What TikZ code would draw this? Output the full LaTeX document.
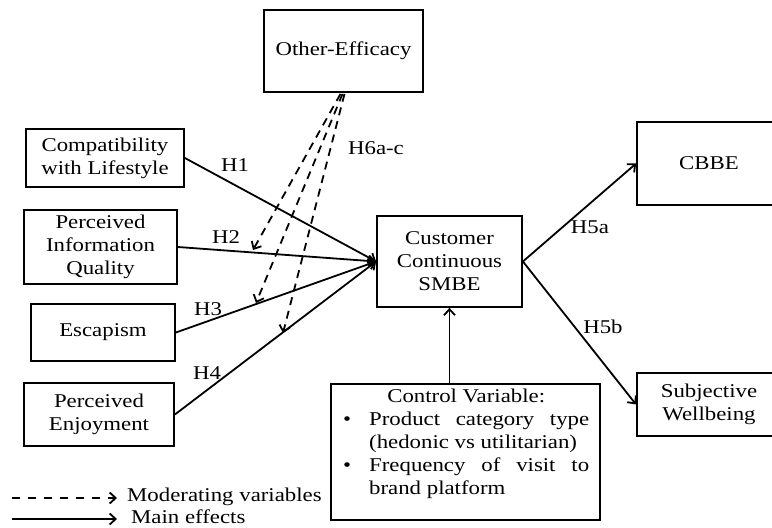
\documentclass[tikz,border=0pt]{standalone}
\usepackage{fontspec}
\setmainfont{Liberation Serif}[FakeStretch=1.17]
\usetikzlibrary{arrows.meta,calc}
\begin{document}
\begin{tikzpicture}[x=1pt,y=-1pt,
  txt/.style={font=\fontsize{19.5}{23}\selectfont},
  box/.style={txt, draw, line width=1.8pt, inner sep=0pt, align=center},
  lbl/.style={txt, inner sep=0pt},
  main/.style={line width=1.8pt, -{Straight Barb[length=6pt,width=11pt,line width=1.8pt]}},
  modr/.style={main, dash pattern=on 8pt off 6pt}]
\useasboundingbox (0,0) rectangle (772,528);
\begin{scope}
\clip (0,0) rectangle (772,528);
\node[box, minimum width=159pt, minimum height=82pt] (oe) at (343.5,51) {Other-Efficacy};
\node[box, minimum width=158pt, minimum height=58pt] (comp) at (105,158) {Compatibility\\with Lifestyle};
\node[box, minimum width=153pt, minimum height=74pt] (piq) at (100.5,247) {Perceived\\Information\\Quality};
\node[box, minimum width=144pt, minimum height=57pt] (esc) at (103,332.5) {Escapism};
\node[box, minimum width=150pt, minimum height=63pt] (pe) at (99,414.5) {Perceived\\Enjoyment};
\node[box, minimum width=145pt, minimum height=91pt] (smbe) at (449.5,261.5) {Customer\\Continuous\\SMBE};
\node[box, minimum width=144pt, minimum height=83pt] (cbbe) at (709,163.5) {CBBE};
\node[box, minimum width=144pt, minimum height=63pt] (sw) at (709,404.5) {Subjective\\Wellbeing};
\node[draw, line width=1.8pt, minimum width=269pt, minimum height=136pt, inner sep=0pt] (ctrl) at (465.5,452) {};
\node[lbl, align=left, anchor=north west] (ctrltext) at (343,389) {%
  \makebox[246pt][c]{Control Variable:}\\
  \makebox[26pt][l]{\textbullet}\makebox[220pt][s]{Product category type}\\
  \makebox[26pt][l]{}(hedonic vs utilitarian)\\
  \makebox[26pt][l]{\textbullet}\makebox[220pt][s]{Frequency of visit to}\\
  \makebox[26pt][l]{}brand platform};
\end{scope}

% main effects
\draw[main] (comp.east) -- (smbe.west);
\draw[main] (piq.east) -- (smbe.west);
\draw[main] (esc.east) -- (smbe.west);
\draw[main] (pe.east) -- (smbe.west);
\draw[main] (smbe.east) -- (cbbe.west);
\draw[main] (smbe.east) -- (sw.west);
\draw[main] (ctrl.north -| smbe.south) -- (smbe.south);

% moderating
\coordinate (d1) at (253,250);
\coordinate (d2) at (256,303);
\coordinate (d3) at (283,333);
\draw[modr] ($(oe.south)+(-3,1)$) -- (d1);
\draw[modr] ($(oe.south)+(-1,1)$) -- (d2);
\draw[modr] ($(oe.south)+(1,1)$) -- (d3);

% labels
\node[lbl] (h1) at (235,165) {H1};
\node[lbl] (h2) at (226,237) {H2};
\node[lbl] (h3) at (208,309) {H3};
\node[lbl] (h4) at (207,373) {H4};
\node[lbl] (h6) at (376,148) {H6a-c};
\node[lbl] (h5a) at (590,227) {H5a};
\node[lbl] (h5b) at (603,327) {H5b};

% legend
\coordinate (ls1) at (12,498);
\coordinate (le1) at (117,498);
\coordinate (ls2) at (12,519);
\coordinate (le2) at (117,519);
\draw[modr, dash pattern=on 8pt off 8pt] (ls1) -- (le1);
\draw[main] (ls2) -- (le2);
\node[lbl, anchor=base west] (lt1) at (127,501) {Moderating variables};
\node[lbl, anchor=base west] (lt2) at (131,523) {Main effects};
\end{tikzpicture}
\end{document}
